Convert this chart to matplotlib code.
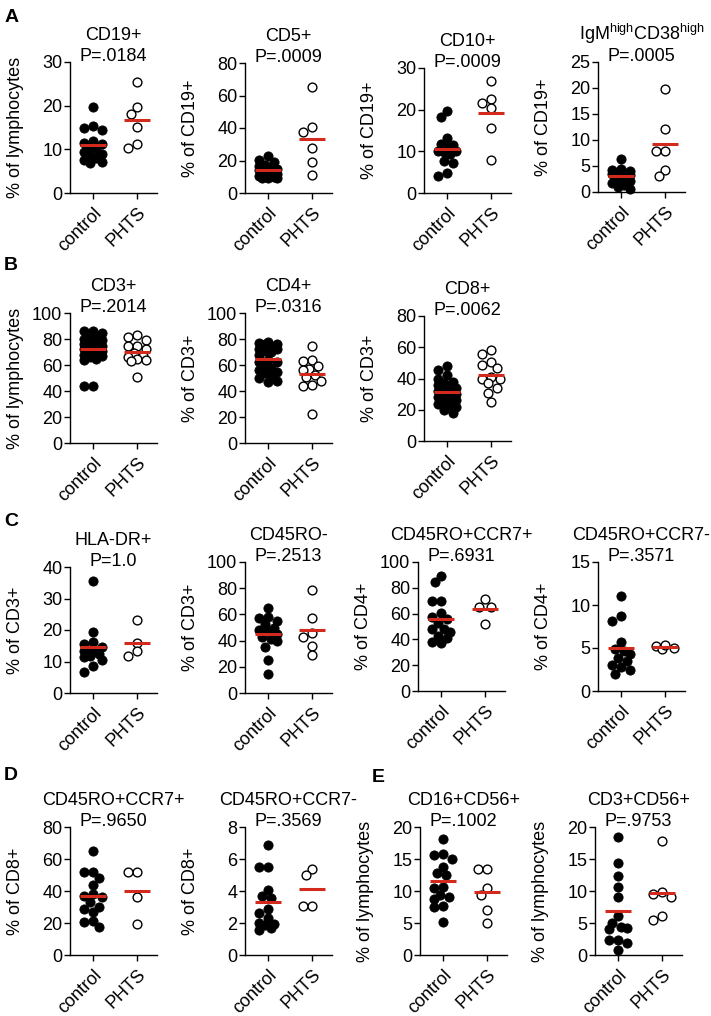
import matplotlib.pyplot as plt
import numpy as np

plt.rcParams['font.family'] = ['Liberation Sans', 'DejaVu Sans']
plt.rcParams['mathtext.fontset'] = 'custom'
plt.rcParams['mathtext.rm'] = 'Liberation Sans'
plt.rcParams['font.size'] = 13

groups = ['control', 'PHTS']

# A
cd19_ctrl = [19.6, 15.4, 15.0, 14.5, 12.0, 11.5, 11.2, 10.5, 10.0, 9.5, 9.0, 8.5, 8.0, 7.5, 7.0, 6.8]
cd19_phts = [25.5, 18.2, 19.6, 15.2, 10.2, 11.2]
cd5_ctrl = [22.5, 20.5, 19.0, 17.5, 16.5, 15.5, 15.0, 14.5, 14.0, 13.5, 13.0, 12.5, 12.0, 11.5, 11.0, 10.5, 10.0, 9.5, 9.0, 9.5]
cd5_phts = [65.2, 37.7, 40.4, 27.4, 19.2, 10.9]
cd10_ctrl = [19.7, 18.3, 13.2, 11.0, 11.6, 11.8, 10.0, 9.8, 10.0, 9.4, 7.8, 7.2, 4.8, 4.2]
cd10_phts = [26.9, 22.6, 21.5, 20.5, 15.7, 8.0]
igm_ctrl = [6.4, 4.5, 4.3, 4.0, 3.9, 3.7, 3.5, 3.4, 3.2, 3.0, 2.8, 2.5, 2.2, 1.8, 1.4, 1.0, 0.5]
igm_phts = [19.8, 12.2, 7.9, 7.9, 4.3, 3.0]
# B
cd3_ctrl = [86, 86, 85, 84, 82, 80, 79, 78, 77, 76, 75, 74, 73, 72, 71, 70, 69, 68, 67, 66, 65, 64, 44, 44]
cd3_phts = [83, 81.5, 79, 75, 74.5, 72, 69, 67, 66, 65, 64, 63, 51]
cd4_ctrl = [78, 77, 76, 76, 75, 74, 73, 72, 72, 71, 70, 68, 62, 64, 62, 60, 58, 56, 55, 54, 52, 50, 48, 47]
cd4_phts = [75, 63.5, 63, 59, 57, 56, 52, 51, 48, 45, 44, 22.5]
cd8_ctrl = [48, 45.5, 42, 40, 38, 37, 36, 35, 34, 33, 32, 31, 30, 29, 28, 27, 26, 25, 24, 23, 22, 20, 18]
cd8_phts = [58.5, 56, 50.5, 48.5, 47, 41, 40, 39.5, 37, 34, 31, 25]
# C
hla_ctrl = [35.6, 19.5, 16.2, 15.6, 14.5, 13.5, 13.2, 12.5, 11.6, 11.4, 10.5, 8.5, 6.8]
hla_phts = [23.2, 15.8, 13.2, 11.8]
ro_neg_ctrl = [64.7, 57.8, 57, 55, 53, 50, 48, 47, 45, 43, 41, 40, 35.3, 25, 14.8]
ro_neg_phts = [78.3, 57, 46, 43, 36, 29]
cd4_cm_ctrl = [89.4, 84.2, 70, 69.4, 60.3, 57, 56, 53, 48.3, 48, 46, 43, 41, 38, 37]
cd4_cm_phts = [71, 65.5, 65.5, 52]
cd4_em_ctrl = [11.0, 8.7, 8.1, 5.7, 4.9, 4.6, 4.3, 3.8, 3.5, 3.0, 2.8, 2.4, 2.0]
cd4_em_phts = [5.2, 5.0, 4.9, 5.3]
# D
cd8_cm_ctrl = [65, 52, 52, 48, 44, 38, 37, 36, 33, 30, 29, 27, 21, 20.5, 17.5]
cd8_cm_phts = [52, 52, 36.4, 19.3]
cd8_em_ctrl = [6.9, 5.5, 5.5, 4.05, 3.7, 3.55, 2.9, 2.6, 2.3, 2.0, 1.95, 1.85, 1.7, 1.55]
cd8_em_phts = [5.4, 5.0, 3.05, 3.05]
# E
nk_ctrl = [18.2, 15.8, 15.6, 15.0, 13.8, 12.8, 12.5, 10.6, 10.5, 9.4, 9.0, 8.8, 7.6, 7.5, 5.2]
nk_phts = [13.5, 13.5, 10.4, 9.4, 7.0, 5.0]
nkt_ctrl = [18.5, 14.3, 12.3, 10.7, 9.1, 6.1, 5.0, 4.4, 4.2, 4.1, 2.4, 2.3, 1.8, 0.8]
nkt_phts = [17.8, 9.9, 9.1, 9.5, 5.5, 6.1]

markers = ['CD19+', 'CD5+', 'CD10+', 'IgM$^{\\mathrm{high}}$CD38$^{\\mathrm{high}}$',
           'CD3+', 'CD4+', 'CD8+',
           'HLA-DR+', 'CD45RO-', 'CD45RO+CCR7+', 'CD45RO+CCR7-',
           'CD45RO+CCR7+', 'CD45RO+CCR7-',
           'CD16+CD56+', 'CD3+CD56+']
pvals = ['P=.0184', 'P=.0009', 'P=.0009', 'P=.0005',
         'P=.2014', 'P=.0316', 'P=.0062',
         'P=1.0', 'P=.2513', 'P=.6931', 'P=.3571',
         'P=.9650', 'P=.3569',
         'P=.1002', 'P=.9753']
ylabels = ['% of lymphocytes', '% of CD19+', '% of CD19+', '% of CD19+',
           '% of lymphocytes', '% of CD3+', '% of CD3+',
           '% of CD3+', '% of CD3+', '% of CD4+', '% of CD4+',
           '% of CD8+', '% of CD8+',
           '% of lymphocytes', '% of lymphocytes']
ctrl_sets = [cd19_ctrl, cd5_ctrl, cd10_ctrl, igm_ctrl, cd3_ctrl, cd4_ctrl, cd8_ctrl,
             hla_ctrl, ro_neg_ctrl, cd4_cm_ctrl, cd4_em_ctrl, cd8_cm_ctrl, cd8_em_ctrl,
             nk_ctrl, nkt_ctrl]
phts_sets = [cd19_phts, cd5_phts, cd10_phts, igm_phts, cd3_phts, cd4_phts, cd8_phts,
             hla_phts, ro_neg_phts, cd4_cm_phts, cd4_em_phts, cd8_cm_phts, cd8_em_phts,
             nk_phts, nkt_phts]
ymax = [30, 80, 30, 25, 100, 100, 80, 40, 100, 100, 15, 80, 8, 20, 20]
ystep = [10, 20, 10, 5, 20, 20, 20, 10, 20, 20, 5, 20, 2, 5, 5]

# axes boxes in pixels: left, top, bottom
boxes = [(70, 62, 193), (245, 63, 193), (424, 68, 193), (598, 62, 192),
         (70, 313, 443), (245, 313, 443), (424, 316, 441),
         (70, 567, 693), (245, 562, 693), (418, 562, 691), (598, 562, 691),
         (70, 827, 955), (245, 827, 955), (420, 827, 955), (595, 827, 955)]
letters = [('A', 12, 17), ('B', 11, 265), ('C', 11, 521), ('D', 11, 775), ('E', 378, 777)]

W, H = 711, 1016
AW = 87
fig = plt.figure(figsize=(W / 100, H / 100), dpi=100)
RED = '#d42a1e'


def swarm_x(ax, vals, center, d=9.0, maxoff=9.0):
    # simple beeswarm in pixel space, points may overlap when crowded
    to_px = ax.transData.transform
    ppu = to_px((1, 0))[0] - to_px((0, 0))[0]
    ys = [to_px((0, v))[1] for v in vals]
    order = np.argsort(vals)[::-1]
    cands = sorted(np.arange(-maxoff, maxoff + 0.01, d / 3), key=abs)
    placed = []
    xs = np.zeros(len(vals))
    for i in order:
        best, bestd = 0.0, -1.0
        for off in cands:
            md = min((np.hypot(off - px, ys[i] - py) for px, py in placed), default=1e9)
            if md >= 0.9 * d:
                best = off
                break
            if md > bestd:
                best, bestd = off, md
        placed.append((best, ys[i]))
        xs[i] = center + best / ppu
    return xs


for i in range(len(markers)):
    x0, top, bot = boxes[i]
    ax = fig.add_axes([x0 / W, 1 - bot / H, AW / W, (bot - top) / H])
    ax.set_xlim(-0.53, 1.45)
    ax.set_ylim(0, ymax[i])
    for sp in ['top', 'right']:
        ax.spines[sp].set_visible(False)
    for sp in ['left', 'bottom']:
        ax.spines[sp].set_linewidth(1.0)
    ax.set_yticks(np.arange(0, ymax[i] + ystep[i] / 2, ystep[i]))
    ax.set_xticks([0, 1])
    ax.set_xticklabels(groups, rotation=45, ha='right', va='top', rotation_mode='anchor')
    ax.tick_params(axis='both', length=4, width=1.0, labelsize=13)
    ax.tick_params(axis='y', pad=1.5)
    ax.tick_params(axis='x', pad=4)

    c = ctrl_sets[i]
    p = phts_sets[i]
    ax.scatter(swarm_x(ax, c, 0), c, s=44, c='black', edgecolors='black', linewidths=0.6,
               clip_on=False, zorder=3)
    ax.scatter(swarm_x(ax, p, 1), p, s=40, facecolors='white', edgecolors='black',
               linewidths=1.0, clip_on=False, zorder=3)
    ax.hlines(np.mean(c), -0.3, 0.3, color=RED, lw=2.2, zorder=4)
    ax.hlines(np.mean(p), 0.7, 1.3, color=RED, lw=2.2, zorder=4)

    ax.annotate(pvals[i], (0.5, 1), xycoords='axes fraction', xytext=(0, 1),
                textcoords='offset pixels', ha='center', va='baseline', fontsize=13)
    ax.annotate(markers[i], (0.5, 1), xycoords='axes fraction', xytext=(0, 22),
                textcoords='offset pixels', ha='center', va='baseline', fontsize=13)
    ax.set_ylabel(ylabels[i], fontsize=13)
    ax.yaxis.set_label_coords(-46 / AW, 0.5)

for lt, lx, ly in letters:
    fig.text(lx / W, 1 - ly / H, lt, fontsize=14, fontweight='bold', ha='center', va='center')

fig.savefig('out.png', dpi=100)
